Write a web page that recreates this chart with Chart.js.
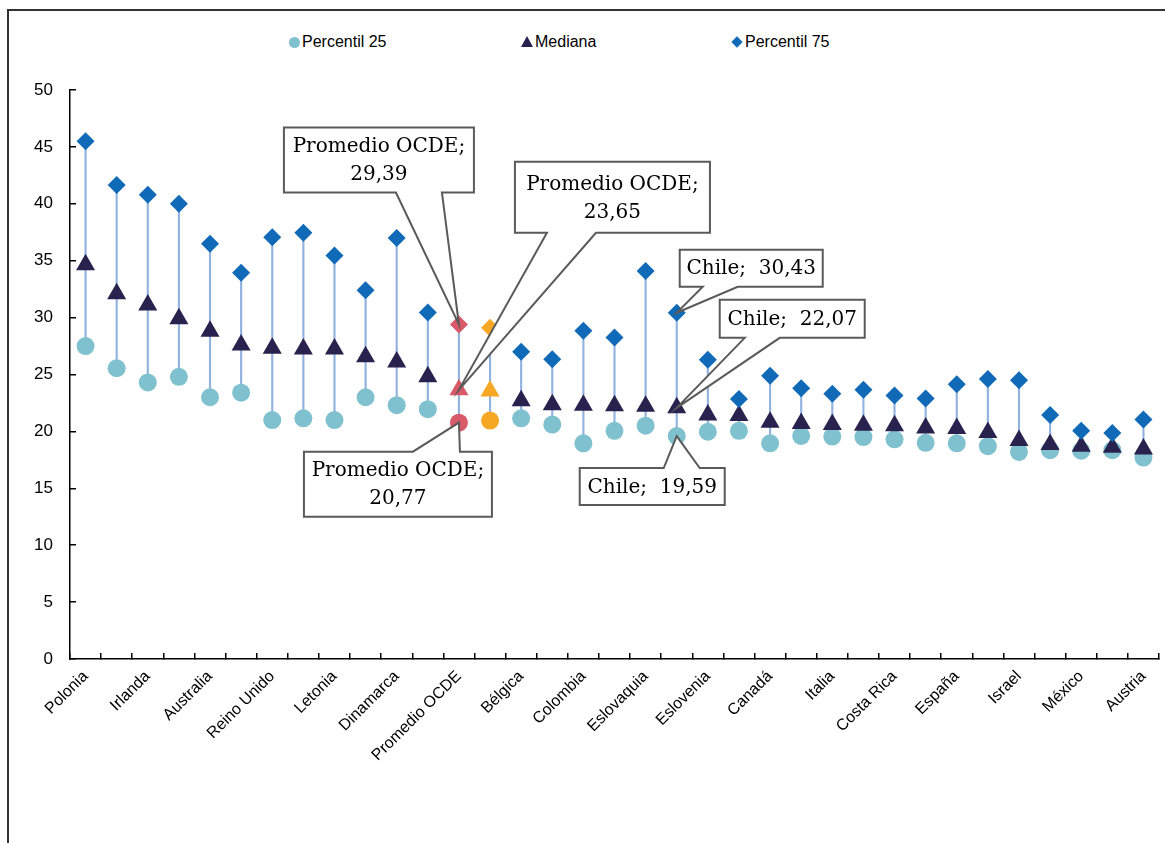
<!DOCTYPE html>
<html lang="es">
<head>
<meta charset="utf-8">
<title>Percentiles por país</title>
<script src="https://cdn.jsdelivr.net/npm/chart.js@4.4.1/dist/chart.umd.min.js"></script>
<style>
  html, body { margin: 0; padding: 0; background: #fff; }
  body { width: 1165px; height: 843px; position: relative; overflow: hidden; font-family: "Liberation Sans", Arial, sans-serif; }
  #frame { position: absolute; left: 7px; top: 9px; width: 1200px; height: 900px; border-left: 2px solid #333; border-top: 2px solid #333; }
  #chartWrap { position: absolute; left: 0; top: 0; width: 1170px; height: 843px; }
  .legend-item { position: absolute; top: 32px; height: 20px; line-height: 20px; font-size: 16px; color: #000; white-space: nowrap; }
  .legend-item .mk { position: absolute; top: 50%; }
  .mk-circle { width: 11px; height: 11px; border-radius: 50%; background: #80c1cf; left: -13px; margin-top: -5px; }
  .mk-tri { width: 0; height: 0; border-left: 6px solid transparent; border-right: 6px solid transparent; border-bottom: 11px solid #29224f; left: -14px; margin-top: -6px; }
  .mk-diamond { width: 8px; height: 8px; background: #106ab7; transform: rotate(45deg); left: -12px; margin-top: -4px; }
</style>
</head>
<body>
<div id="frame"></div>
<div class="legend-item" style="left:302px"><span class="mk mk-circle"></span>Percentil 25</div>
<div class="legend-item" style="left:535px"><span class="mk mk-tri"></span>Mediana</div>
<div class="legend-item" style="left:745px"><span class="mk mk-diamond"></span>Percentil 75</div>
<div id="chartWrap"><canvas id="chart"></canvas></div>
<script>
// categorías (solo se rotulan las de índice par, como en el original)
const categories = [
  'Polonia', 'Estonia', 'Irlanda', 'Hungría', 'Australia', 'Portugal', 'Reino Unido',
  'Lituania', 'Letonia', 'Países Bajos', 'Dinamarca', 'Estados Unidos', 'Promedio OCDE',
  'Nueva Zelanda', 'Bélgica', 'Alemania', 'Colombia', 'Luxemburgo', 'Eslovaquia', 'Chile',
  'Eslovenia', 'Finlandia', 'Canadá', 'Noruega', 'Italia', 'Japón', 'Costa Rica', 'Suecia',
  'España', 'Grecia', 'Israel', 'Corea', 'México', 'Suiza', 'Austria'
];

const percentil25 = [
  27.5, 25.55, 24.3, 24.8, 23.0, 23.4, 21.0, 21.15, 21.0, 23.0, 22.3, 21.95, 20.77,
  20.95, 21.15, 20.6, 18.95, 20.05, 20.5, 19.59, 19.97, 20.05, 18.95, 19.6, 19.55,
  19.5, 19.3, 19.0, 18.95, 18.7, 18.2, 18.35, 18.3, 18.35, 17.7
];

const mediana = [
  34.65, 32.1, 31.1, 29.9, 28.8, 27.6, 27.3, 27.25, 27.25, 26.55, 26.1, 24.8, 23.65,
  23.55, 22.7, 22.35, 22.3, 22.25, 22.2, 22.07, 21.45, 21.4, 20.8, 20.7, 20.6,
  20.55, 20.5, 20.3, 20.25, 19.9, 19.2, 18.85, 18.7, 18.6, 18.45
];

const percentil75 = [
  45.5, 41.65, 40.8, 40.0, 36.5, 33.95, 37.05, 37.45, 35.45, 32.4, 37.0, 30.45, 29.39,
  29.1, 27.0, 26.35, 28.85, 28.25, 34.1, 30.43, 26.3, 22.85, 24.9, 23.8, 23.3,
  23.65, 23.15, 22.9, 24.15, 24.6, 24.5, 21.45, 20.05, 19.85, 21.05
];

const yTicks = [0, 5, 10, 15, 20, 25, 30, 35, 40, 45, 50];

const OECD_INDEX = categories.indexOf('Promedio OCDE');
const HIGHLIGHT_INDEX = 13;

const COLOR_P25 = '#80c1cf';
const COLOR_MED = '#29224f';
const COLOR_P75 = '#106ab7';
const COLOR_OECD = '#d85a69';
const COLOR_HIGHLIGHT = '#f6a723';

function pointColors(base) {
  return categories.map((name, i) => {
    if (i === OECD_INDEX) return COLOR_OECD;
    if (i === HIGHLIGHT_INDEX) return COLOR_HIGHLIGHT;
    return base;
  });
}

function formatValue(v) {
  return v.toFixed(2).replace('.', ',');
}

// globos de texto: dataset, categoría, caja relativa al punto [dx, dy, ancho, alto]
const callouts = [
  { dataset: 3, label: 'Promedio OCDE', values: percentil75, box: [-175, -197, 190, 65], side: 'bottom', base: [-63, -17] },
  { dataset: 2, label: 'Promedio OCDE', values: mediana, box: [56, -228, 195, 71], side: 'bottom', base: [88, 137] },
  { dataset: 1, label: 'Promedio OCDE', values: percentil25, box: [-155, 29, 188, 65], side: 'top', base: [-46, 1] },
  { dataset: 3, label: 'Chile', values: percentil75, box: [3, -63, 143, 37], side: 'bottom', base: [26, 61] },
  { dataset: 2, label: 'Chile', values: mediana, box: [43, -108, 145, 38], side: 'bottom', base: [68, 103] },
  { dataset: 1, label: 'Chile', values: percentil25, box: [-97, 32, 145, 37], side: 'top', base: [-13, 23] }
];

const calloutPlugin = {
  id: 'callouts',
  afterDatasetsDraw(chart) {
    const ctx = chart.ctx;
    callouts.forEach((c) => {
      const index = categories.indexOf(c.label);
      const point = chart.getDatasetMeta(c.dataset).data[index];
      const px = point.x;
      const py = point.y;
      const x0 = px + c.box[0];
      const y0 = py + c.box[1];
      const x1 = x0 + c.box[2];
      const y1 = y0 + c.box[3];
      const b0 = px + c.base[0];
      const b1 = px + c.base[1];

      ctx.save();
      ctx.beginPath();
      if (c.side === 'bottom') {
        ctx.moveTo(x0, y0);
        ctx.lineTo(x1, y0);
        ctx.lineTo(x1, y1);
        ctx.lineTo(b1, y1);
        ctx.lineTo(px, py);
        ctx.lineTo(b0, y1);
        ctx.lineTo(x0, y1);
      } else {
        ctx.moveTo(x0, y0);
        ctx.lineTo(b0, y0);
        ctx.lineTo(px, py);
        ctx.lineTo(b1, y0);
        ctx.lineTo(x1, y0);
        ctx.lineTo(x1, y1);
        ctx.lineTo(x0, y1);
      }
      ctx.closePath();
      ctx.fillStyle = '#ffffff';
      ctx.fill();
      ctx.lineWidth = 2;
      ctx.lineJoin = 'miter';
      ctx.strokeStyle = '#5a5a5a';
      ctx.stroke();

      const value = formatValue(c.values[index]);
      const lines = c.label === 'Chile'
        ? [c.label + ';  ' + value]
        : [c.label + ';', value];
      ctx.fillStyle = '#000000';
      ctx.font = '20px "DejaVu Serif", serif';
      ctx.textAlign = 'center';
      ctx.textBaseline = 'middle';
      const cx = (x0 + x1) / 2;
      const cy = (y0 + y1) / 2 + 1;
      const lineHeight = 28;
      lines.forEach((text, i) => {
        ctx.fillText(text, cx, cy + (i - (lines.length - 1) / 2) * lineHeight);
      });
      ctx.restore();
    });
  }
};

const canvas = document.getElementById('chart');

new Chart(canvas, {
  type: 'bar',
  data: {
    labels: categories,
    datasets: [
      {
        label: 'Rango',
        data: categories.map((name, i) => [percentil25[i], percentil75[i]]),
        backgroundColor: '#92b2df',
        barThickness: 1.5,
        order: 4
      },
      {
        type: 'line',
        label: 'Percentil 25',
        data: percentil25,
        showLine: false,
        pointStyle: 'circle',
        pointRadius: 9,
        pointBorderWidth: 0,
        pointBackgroundColor: pointColors(COLOR_P25),
        pointBorderColor: pointColors(COLOR_P25),
        order: 3
      },
      {
        type: 'line',
        label: 'Mediana',
        data: mediana,
        showLine: false,
        pointStyle: 'triangle',
        pointRadius: 11,
        pointBorderWidth: 0,
        pointBackgroundColor: pointColors(COLOR_MED),
        pointBorderColor: pointColors(COLOR_MED),
        order: 2
      },
      {
        type: 'line',
        label: 'Percentil 75',
        data: percentil75,
        showLine: false,
        pointStyle: 'rectRot',
        pointRadius: 9,
        pointBorderWidth: 0,
        pointBackgroundColor: pointColors(COLOR_P75),
        pointBorderColor: pointColors(COLOR_P75),
        order: 1
      }
    ]
  },
  options: {
    responsive: true,
    maintainAspectRatio: false,
    animation: false,
    events: [],
    layout: {
      padding: { top: 90, right: 0, bottom: 0, left: 0 }
    },
    plugins: {
      legend: { display: false },
      tooltip: { enabled: false }
    },
    scales: {
      x: {
        offset: true,
        grid: {
          offset: true,
          drawOnChartArea: false,
          drawTicks: true,
          tickLength: -6,
          color: '#000',
          lineWidth: 1.5
        },
        border: { color: '#000', width: 1.5 },
        ticks: {
          autoSkip: false,
          maxRotation: 45,
          minRotation: 45,
          padding: 14,
          color: '#000',
          font: { family: '"Liberation Sans", Arial, sans-serif', size: 16 },
          callback: (value, index) => (index % 2 === 0 ? categories[index] : '')
        },
        afterFit: (scale) => {
          scale.height = 184;
          scale.paddingRight = 0;
          scale.paddingLeft = 0;
        }
      },
      y: {
        min: 0,
        max: 50,
        afterBuildTicks: (scale) => { scale.ticks = yTicks.map((v) => ({ value: v })); },
        grid: {
          drawOnChartArea: false,
          drawTicks: true,
          tickLength: -6,
          color: '#000',
          lineWidth: 1.5
        },
        border: { color: '#000', width: 1.5 },
        ticks: {
          padding: 23,
          color: '#000',
          font: { family: '"Liberation Sans", Arial, sans-serif', size: 17 }
        },
        afterFit: (scale) => {
          scale.width = 70;
          scale.paddingTop = 0;
          scale.paddingBottom = 0;
        }
      }
    }
  },
  plugins: [calloutPlugin]
});
</script>
</body>
</html>
